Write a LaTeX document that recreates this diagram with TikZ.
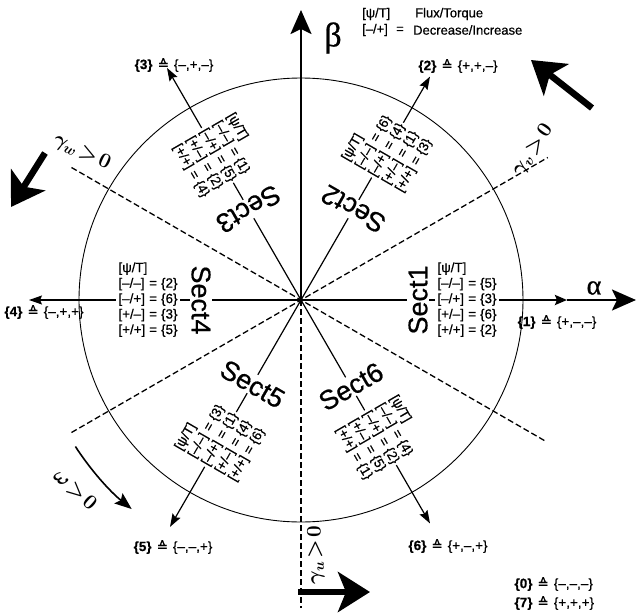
\documentclass[tikz,border=0pt]{standalone}
\usepackage{amsmath}
\usepackage{fontspec}
\setmainfont{Liberation Sans}
\newfontfamily\hv[FakeBold=0.6]{Liberation Sans}
\newfontfamily\symfont[FakeBold=0.6]{DejaVu Sans}
\newfontfamily\grkfont[FakeBold=0.8]{Liberation Serif}
\usetikzlibrary{arrows.meta}
\newcommand{\hq}{{\symfont ≙}}
\newcommand{\vl}[2]{\textbf{\{#1\}}\hspace{5pt}\hq\hspace{5pt}\{#2\}}
\newcommand{\tabl}[4]{\begin{tabular}{@{}l@{\hspace{4pt}=\hspace{4pt}}l@{}}\multicolumn{2}{@{}l@{}}{[ψ/T]}\\{[}–/–{]}&\{#1\}\\{[}–/+{]}&\{#2\}\\{[}+/–{]}&\{#3\}\\{[}+/+{]}&\{#4\}\end{tabular}}
\begin{document}
\begin{tikzpicture}[x=1pt,y=1pt,
  vec/.style={line width=1.2pt,-{Stealth[length=13pt,width=9pt,inset=2pt]}},
  axisln/.style={line width=2.4pt},
  bigtip/.style={-{Stealth[length=24pt,width=21pt,inset=5pt]}},
  dsh/.style={line width=1.3pt,dash pattern=on 6pt off 3pt},
  fat/.style={line width=6.5pt,-{Stealth[length=32pt,width=40pt,inset=8pt]}},
  sect/.style={font=\fontsize{27}{27}\selectfont\hv,fill=white,inner sep=1pt},
  tbl/.style={font=\fontsize{13.4}{15.5}\selectfont\hv,fill=white,inner sep=2pt},
  vlab/.style={font=\fontsize{13.5}{15}\selectfont\hv},
  lg/.style={font=\fontsize{13}{15}\selectfont\hv,inner sep=0pt},
  glab/.style={font=\fontsize{21}{21}\selectfont}]
\useasboundingbox (-301,-314) rectangle (336,300);
\coordinate (O) at (0,0);
% circle
\draw[line width=0.9pt] (O) circle[radius=222];
% dashed gamma lines
\coordinate (d1a) at (210:265); \coordinate (d1b) at (30:285);
\coordinate (d2a) at (150:265); \coordinate (d2b) at (330:283);
\coordinate (du) at (0,-308);
\draw[dsh] (d1a) -- (d1b);
\draw[dsh] (d2a) -- (d2b);
\draw[dsh] (O) -- (du);
% axes
\coordinate (v1) at (266,0);
\coordinate (atip) at (335,0);
\coordinate (btip) at (0,290);
\draw[axisln,-{Stealth[length=12pt,width=10pt,inset=2pt]}] (O) -- (v1);
\draw[axisln,bigtip] (v1) -- (atip);
\draw[axisln,bigtip] (O) -- (btip);
% vectors
\coordinate (v2) at (60:258);
\coordinate (v3) at (120:268);
\coordinate (v4) at (180:272);
\coordinate (v5) at (240:262);
\coordinate (v6) at (300:258);
\draw[vec] (O) -- (v2);
\draw[vec] (O) -- (v3);
\draw[vec] (O) -- (v4);
\draw[vec] (O) -- (v5);
\draw[vec] (O) -- (v6);
% sector labels
\node[sect,rotate=90] (s1) at (0:117) {Sect1};
\node[sect,rotate=150] (s2) at (60:105) {Sect2};
\node[sect,rotate=210] (s3) at (120:105) {Sect3};
\node[sect,rotate=270] (s4) at (180:100) {Sect4};
\node[sect,rotate=330] (s5) at (240:97) {Sect5};
\node[sect,rotate=30] (s6) at (300:100) {Sect6};
% tables
\node[tbl] (t1) at (0:166) {\tabl{5}{3}{6}{2}};
\node[tbl,rotate=60] (t2) at (60:173) {\tabl{6}{4}{1}{3}};
\node[tbl,rotate=-60] (t3) at (120:167) {\tabl{1}{5}{2}{4}};
\node[tbl] (t4) at (180:153) {\tabl{2}{6}{3}{5}};
\node[tbl,rotate=60] (t5) at (240:161) {\tabl{3}{1}{4}{6}};
\node[tbl,rotate=-60] (t6) at (300:159) {\tabl{4}{2}{5}{1}};
% vector labels
\node[vlab] (l1) at (256,-22) {\vl{1}{+,–,–}};
\node[vlab] (l2) at (157,234) {\vl{2}{+,+,–}};
\node[vlab] (l3) at (-127,235) {\vl{3}{–,+,–}};
\node[vlab] (l4) at (-257,-12) {\vl{4}{–,+,+}};
\node[vlab] (l5) at (-128,-247) {\vl{5}{–,–,+}};
\node[vlab] (l6) at (147,-246) {\vl{6}{+,–,+}};
\node[vlab,anchor=west] (l0) at (210,-284) {\vl{0}{–,–,–}};
\node[vlab,anchor=west] (l7) at (210,-303) {\vl{7}{+,+,+}};
% axis labels
\node[font=\fontsize{34}{34}\selectfont\grkfont] (beta) at (32,262) {β};
\node[font=\fontsize{28}{28}\selectfont\grkfont] (alpha) at (293,12) {α};
% legend
\node[lg,anchor=west] (lg1) at (61,286) {[ψ/T]};
\node[lg,anchor=west] (lg2) at (114,286) {Flux/Torque};
\node[lg,anchor=west] (lg3) at (61,270) {[–/+]};
\node[lg] (lg4) at (99,270) {=};
\node[lg,anchor=west] (lg5) at (112,270) {Decrease/Increase};
% gamma labels
\node[glab,rotate=-25] (gw) at (-219,148) {$\boldsymbol{\gamma_w\!>\!0}$};
\node[glab,rotate=55] (gv) at (232,150) {$\boldsymbol{\gamma_v\!>\!0}$};
\node[glab,rotate=90] (gu) at (15,-255) {$\boldsymbol{\gamma_u\!>\!0}$};
\node[glab,rotate=-42] (om) at (-226,-190) {$\boldsymbol{\omega\!>\!0}$};
% omega arc
\coordinate (w1) at (213:269);
\draw[line width=1.6pt,-{Stealth[length=17pt,width=13pt,inset=3pt]}] (w1) arc[start angle=213,end angle=231,radius=269];
% fat arrows
\coordinate (fa1) at (291,192); \coordinate (fb1) at (230,240);
\coordinate (fa2) at (-256,147); \coordinate (fb2) at (-290,93);
\coordinate (fa3) at (-3,-292); \coordinate (fb3) at (69,-292);
\draw[fat] (fa1) -- (fb1);
\draw[fat] (fa2) -- (fb2);
\draw[fat] (fa3) -- (fb3);
\end{tikzpicture}
\end{document}
